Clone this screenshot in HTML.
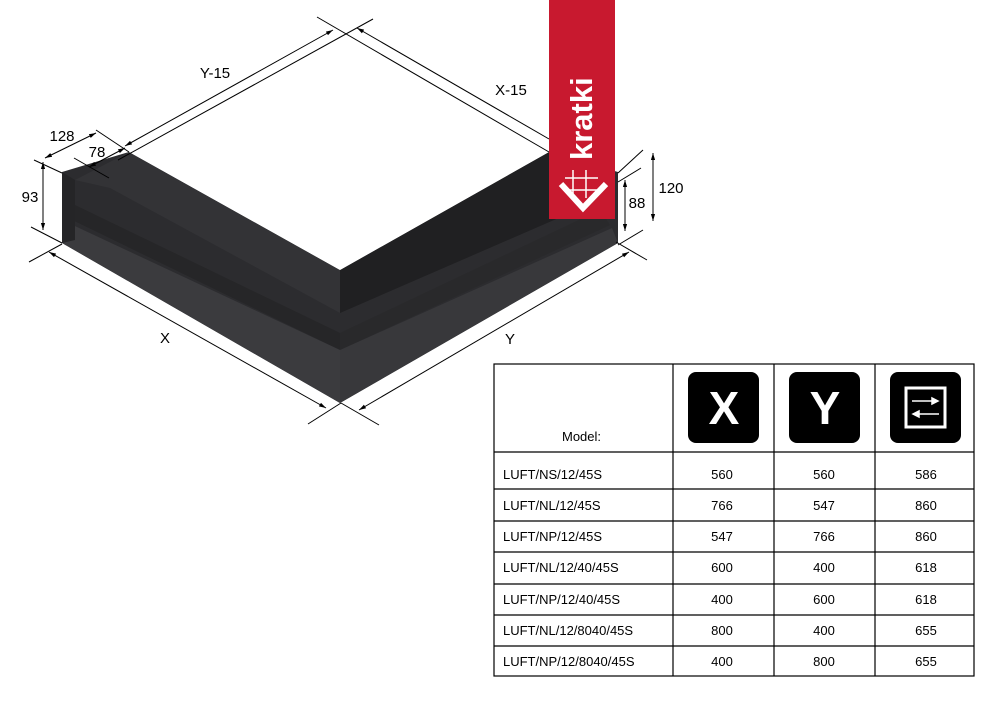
<!DOCTYPE html>
<html><head><meta charset="utf-8"><style>
html,body{margin:0;padding:0;background:#fff;}
body{width:1000px;height:707px;overflow:hidden;position:relative;font-family:"Liberation Sans",sans-serif;}
svg{position:absolute;left:0;top:0;}
</style></head><body>
<svg width="1000" height="707" viewBox="0 0 1000 707" xmlns="http://www.w3.org/2000/svg">
<defs>
<marker id="a" viewBox="0 0 10 10" refX="10" refY="5" markerWidth="7" markerHeight="7" orient="auto-start-reverse"><path d="M0,2 L10,5 L0,8 z" fill="#000"/></marker>
</defs>
<polygon points="62,172 129,152 340,270 549,152 618,172 618,243 340,403 62,243" fill="#2c2c2f"/>
<polygon points="129,152 340,270 340,313 110,188 75,180" fill="#333336"/>
<polygon points="340,270 549,152 600,170 600,200 340,313" fill="#202022"/>
<polygon points="75,205 340,333 340,350 62,215" fill="#262628"/>
<polygon points="340,333 600,210 610,225 340,350" fill="#29292b"/>
<polygon points="62,220 340,350 340,403 62,243" fill="#3b3b3e"/>
<polygon points="340,350 612,228 618,243 340,403" fill="#38383b"/>
<polygon points="62,172 75,180 75,240 62,243" fill="#252527"/>
<polygon points="129,152 340,30 549,152 340,270" fill="#fff"/>
<g stroke="#000" stroke-width="1" fill="none">
<line x1="125" y1="146" x2="333" y2="30" marker-start="url(#a)" marker-end="url(#a)"/>
<line x1="373" y1="19" x2="118" y2="160"/>
<line x1="317" y1="17" x2="549" y2="152"/>
<line x1="357" y1="28" x2="549" y2="139" marker-start="url(#a)"/>
<line x1="45" y1="158" x2="96" y2="133" marker-start="url(#a)" marker-end="url(#a)"/>
<line x1="96" y1="130" x2="129" y2="152"/>
<line x1="89" y1="167" x2="125" y2="148" marker-start="url(#a)" marker-end="url(#a)"/>
<line x1="74" y1="158" x2="109" y2="178"/>
<line x1="34" y1="160" x2="62" y2="173"/>
<line x1="31" y1="227" x2="62" y2="243"/>
<line x1="43" y1="162" x2="43" y2="230" marker-start="url(#a)" marker-end="url(#a)"/>
<line x1="29" y1="262" x2="62" y2="244"/>
<line x1="49" y1="252" x2="326" y2="408" marker-start="url(#a)" marker-end="url(#a)"/>
<line x1="308" y1="424" x2="341" y2="403"/>
<line x1="379" y1="425" x2="341" y2="403"/>
<line x1="359" y1="410" x2="629" y2="252" marker-start="url(#a)" marker-end="url(#a)"/>
<line x1="616" y1="242" x2="647" y2="260"/>
<line x1="643" y1="150" x2="618" y2="173"/>
<line x1="643" y1="230" x2="618" y2="245"/>
<line x1="653" y1="153" x2="653" y2="221" marker-start="url(#a)" marker-end="url(#a)"/>
<line x1="641" y1="168" x2="618" y2="182"/>
<line x1="625" y1="180" x2="625" y2="231" marker-start="url(#a)" marker-end="url(#a)"/>
</g>
<g font-family="Liberation Sans, sans-serif" font-size="15" fill="#000" text-anchor="middle">
<text x="215" y="78">Y-15</text>
<text x="511" y="95">X-15</text>
<text x="62" y="141">128</text>
<text x="97" y="157">78</text>
<text x="30" y="202">93</text>
<text x="165" y="343">X</text>
<text x="510" y="344">Y</text>
<text x="671" y="193">120</text>
<text x="637" y="208">88</text>
</g>
<rect x="549" y="0" width="66" height="219" fill="#c8192f"/>
<text transform="translate(592,160) rotate(-90)" font-family="Liberation Sans, sans-serif" font-weight="bold" font-size="31" fill="#fff">kratki</text>
<g stroke="#fff" fill="none">
<path d="M561,184 L583,208 L606,184" stroke-width="6"/>
<line x1="573" y1="170" x2="573" y2="198" stroke-width="1.5"/>
<line x1="586" y1="170" x2="586" y2="198" stroke-width="1.5"/>
<line x1="565" y1="178" x2="598" y2="178" stroke-width="1.5"/>
<line x1="565" y1="190" x2="598" y2="190" stroke-width="1.5"/>
</g>
<g stroke="#000" stroke-width="1.2" fill="none">
<rect x="494" y="364" width="480" height="312"/>
<line x1="673" y1="364" x2="673" y2="676"/>
<line x1="774" y1="364" x2="774" y2="676"/>
<line x1="875" y1="364" x2="875" y2="676"/>
<line x1="494" y1="452" x2="974" y2="452"/>
<line x1="494" y1="489" x2="974" y2="489"/>
<line x1="494" y1="521" x2="974" y2="521"/>
<line x1="494" y1="552" x2="974" y2="552"/>
<line x1="494" y1="584" x2="974" y2="584"/>
<line x1="494" y1="615" x2="974" y2="615"/>
<line x1="494" y1="646" x2="974" y2="646"/>
</g>
<rect x="688" y="372" width="71" height="71" rx="8" fill="#000"/>
<rect x="789" y="372" width="71" height="71" rx="8" fill="#000"/>
<rect x="890" y="372" width="71" height="71" rx="8" fill="#000"/>
<g font-family="Liberation Sans, sans-serif" font-size="46" font-weight="bold" fill="#fff" text-anchor="middle">
<text x="724" y="424">X</text>
<text x="825" y="424">Y</text>
</g>
<rect x="906" y="388" width="39" height="39" fill="none" stroke="#fff" stroke-width="3"/>
<g stroke="#fff" stroke-width="1.5" fill="#fff">
<line x1="912" y1="401" x2="936" y2="401"/><path d="M938,401 L932,398 L932,404 z"/>
<line x1="915" y1="414" x2="939" y2="414"/><path d="M913,414 L919,411 L919,417 z"/>
</g>
<g font-family="Liberation Sans, sans-serif" font-size="13" fill="#000">
<text x="562" y="441">Model:</text>
<text x="503" y="479">LUFT/NS/12/45S</text>
<text x="503" y="510">LUFT/NL/12/45S</text>
<text x="503" y="541">LUFT/NP/12/45S</text>
<text x="503" y="572">LUFT/NL/12/40/45S</text>
<text x="503" y="604">LUFT/NP/12/40/45S</text>
<text x="503" y="635">LUFT/NL/12/8040/45S</text>
<text x="503" y="666">LUFT/NP/12/8040/45S</text>
</g>
<g font-family="Liberation Sans, sans-serif" font-size="13" fill="#000" text-anchor="middle">
<text x="722" y="479">560</text><text x="824" y="479">560</text><text x="926" y="479">586</text>
<text x="722" y="510">766</text><text x="824" y="510">547</text><text x="926" y="510">860</text>
<text x="722" y="541">547</text><text x="824" y="541">766</text><text x="926" y="541">860</text>
<text x="722" y="572">600</text><text x="824" y="572">400</text><text x="926" y="572">618</text>
<text x="722" y="604">400</text><text x="824" y="604">600</text><text x="926" y="604">618</text>
<text x="722" y="635">800</text><text x="824" y="635">400</text><text x="926" y="635">655</text>
<text x="722" y="666">400</text><text x="824" y="666">800</text><text x="926" y="666">655</text>
</g>
</svg>
</body></html>
